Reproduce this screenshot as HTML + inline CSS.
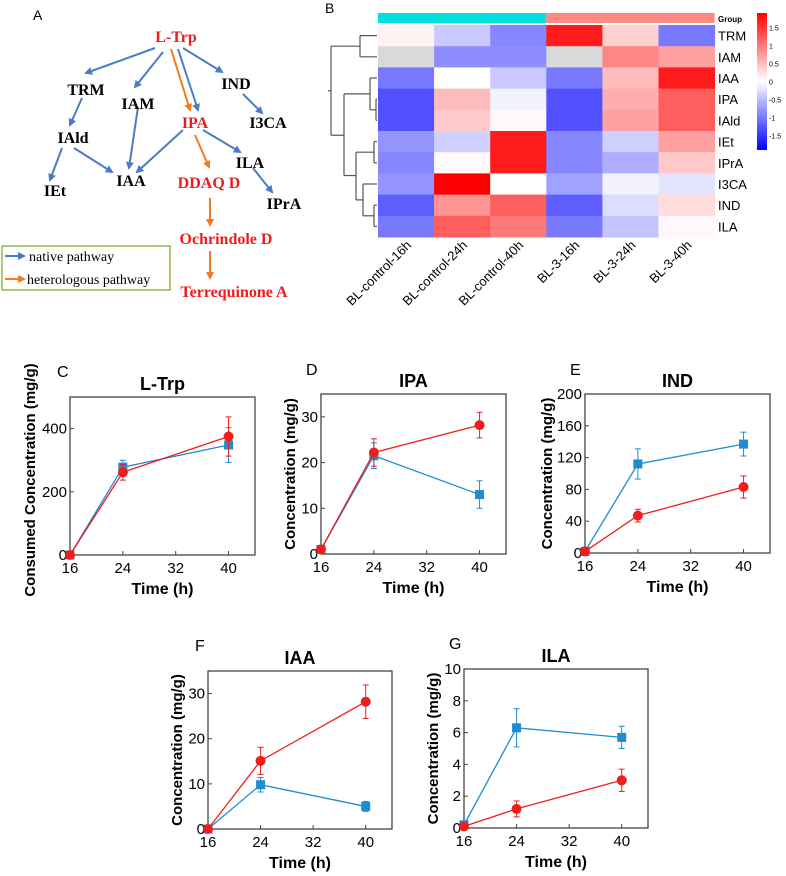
<!DOCTYPE html>
<html><head><meta charset="utf-8"><style>
body{margin:0;background:#fff;width:786px;height:876px;overflow:hidden;font-family:"Liberation Sans",sans-serif}
svg{position:absolute;left:0;top:0}
</style></head><body>
<svg id="fig" width="786" height="876" xmlns="http://www.w3.org/2000/svg" font-family="Liberation Sans, sans-serif">
<defs>
<marker id="ab" markerWidth="8" markerHeight="8" refX="6" refY="4" orient="auto" markerUnits="userSpaceOnUse"><path d="M0,0 L8,4 L0,8 z" fill="#4a7cc4"/></marker>
<marker id="ao" markerWidth="8" markerHeight="8" refX="6" refY="4" orient="auto" markerUnits="userSpaceOnUse"><path d="M0,0 L8,4 L0,8 z" fill="#f47a20"/></marker>
<linearGradient id="cb" x1="0" y1="1" x2="0" y2="0"><stop offset="0" stop-color="#0000ff"/><stop offset="0.5" stop-color="#fff"/><stop offset="1" stop-color="#ff0000"/></linearGradient>
</defs>
<g id="panelA" font-family="Liberation Serif, serif" font-weight="bold" font-size="16">
<text x="33" y="20" font-family="Liberation Sans" font-weight="normal" font-size="14">A</text>
<g stroke="#4a7cc4" stroke-width="2" fill="none">
<line x1="155" y1="48" x2="86" y2="73" marker-end="url(#ab)"/>
<line x1="163" y1="52" x2="135" y2="87" marker-end="url(#ab)"/>
<line x1="178" y1="49" x2="198" y2="110" marker-end="url(#ab)"/>
<line x1="183" y1="48" x2="222" y2="72" marker-end="url(#ab)"/>
<line x1="82" y1="98" x2="70" y2="125" marker-end="url(#ab)"/>
<line x1="138" y1="107" x2="129" y2="168" marker-end="url(#ab)"/>
<line x1="243" y1="94" x2="262" y2="113" marker-end="url(#ab)"/>
<line x1="62" y1="148" x2="50" y2="180" marker-end="url(#ab)"/>
<line x1="74" y1="148" x2="112" y2="172" marker-end="url(#ab)"/>
<line x1="183" y1="130" x2="137" y2="172" marker-end="url(#ab)"/>
<line x1="203" y1="130" x2="240" y2="152" marker-end="url(#ab)"/>
<line x1="253" y1="168" x2="272" y2="192" marker-end="url(#ab)"/>
</g>
<g stroke="#f47a20" stroke-width="2" fill="none">
<line x1="171" y1="49" x2="190" y2="110" marker-end="url(#ao)"/>
<line x1="195" y1="135" x2="209" y2="167" marker-end="url(#ao)"/>
<line x1="210" y1="198" x2="210" y2="225" marker-end="url(#ao)"/>
<line x1="210" y1="251" x2="210" y2="278" marker-end="url(#ao)"/>
</g>
<text x="176" y="42" fill="#ee1c1c" text-anchor="middle">L-Trp</text>
<text x="86" y="95" text-anchor="middle">TRM</text>
<text x="138" y="109" text-anchor="middle">IAM</text>
<text x="236" y="89" text-anchor="middle">IND</text>
<text x="195" y="128" fill="#ee1c1c" text-anchor="middle">IPA</text>
<text x="268" y="128" text-anchor="middle">I3CA</text>
<text x="73" y="143" text-anchor="middle">IAld</text>
<text x="250" y="168" text-anchor="middle">ILA</text>
<text x="55" y="196" text-anchor="middle">IEt</text>
<text x="131" y="186" text-anchor="middle">IAA</text>
<text x="209" y="188" fill="#ee1c1c" text-anchor="middle">DDAQ D</text>
<text x="284" y="209" text-anchor="middle">IPrA</text>
<text x="226" y="244" fill="#ee1c1c" text-anchor="middle">Ochrindole D</text>
<text x="234" y="297" fill="#ee1c1c" text-anchor="middle">Terrequinone A</text>
<g font-weight="normal" font-size="14">
<rect x="2" y="246" width="168" height="44" fill="#fff" stroke="#8dbb4a" stroke-width="1.5"/>
<line x1="5" y1="256" x2="24" y2="256" stroke="#4a7cc4" stroke-width="2" marker-end="url(#ab)"/>
<text x="29" y="261">native pathway</text>
<line x1="5" y1="279" x2="24" y2="279" stroke="#f47a20" stroke-width="2" marker-end="url(#ao)"/>
<text x="27" y="284">heterologous pathway</text>
</g>
</g>
<g id="heat"></g>
<g id="charts"></g>
</svg>
<script>
const NS="http://www.w3.org/2000/svg";
function mk(p,t,a,txt){const e=document.createElementNS(NS,t);for(const k in a)e.setAttribute(k,a[k]);if(txt!==undefined)e.textContent=txt;p.appendChild(e);return e;}

// ---- Heatmap data
const hmRows=["TRM","IAM","IAA","IPA","IAld","IEt","IPrA","I3CA","IND","ILA"];
const hmCols=["BL-control-16h","BL-control-24h","BL-control-40h","BL-3-16h","BL-3-24h","BL-3-40h"];
const hmTRM=[0.1,-0.4,-0.9,1.7,0.35,-1.0];
const hmIAM=[null,-0.85,-0.85,null,0.9,0.7];
const hmIAA=[-1.0,0,-0.4,-1.0,0.5,1.7];
const hmIPA=[-1.3,0.5,-0.1,-1.3,0.6,1.2];
const hmIAld=[-1.3,0.4,0.05,-1.3,0.7,1.2];
const hmIEt=[-0.8,-0.35,1.7,-0.9,-0.35,0.7];
const hmIPrA=[-0.9,0.03,1.7,-0.9,-0.6,0.4];
const hmI3CA=[-0.8,1.9,0,-0.7,-0.1,-0.2];
const hmIND=[-1.2,0.8,1.2,-1.2,-0.25,0.25];
const hmILA=[-1.0,1.2,1.0,-1.0,-0.45,0.05];
const hmData=[hmTRM,hmIAM,hmIAA,hmIPA,hmIAld,hmIEt,hmIPrA,hmI3CA,hmIND,hmILA];
const cbTicks=[1.5,1,0.5,0,-0.5,-1,-1.5];
function hcol(v){if(v===null)return"#d9d9d9";let t=Math.max(-1,Math.min(1,v/1.9));
 if(t>=0){const c=Math.round(255*(1-t));return`rgb(255,${c},${c})`;}const c=Math.round(255*(1+t));return`rgb(${c},${c},255)`;}
const hx0=378,hy0=25,cw=56.1,rh=21.2;
const heat=document.getElementById('heat');
const pb=mk(heat,'text',{x:325,y:13,'font-size':14},'B');

const gb1=mk(heat,'rect',{x:hx0,y:13,width:cw*3,height:10,fill:'#00dede'});

const gb2=mk(heat,'rect',{x:hx0+cw*3,y:13,width:cw*3,height:10,fill:'#fe8a82'});

const gl=mk(heat,'text',{x:718,y:22,'font-size':8,'font-weight':'bold'},'Group');

hmData.forEach((row,i)=>{row.forEach((v,j)=>{
 const r=mk(heat,'rect',{x:hx0+j*cw,y:hy0+i*rh,width:cw+0.5,height:rh+0.5,fill:hcol(v)});
 
 
});
 const t=mk(heat,'text',{x:718,y:hy0+i*rh+rh/2+5,'font-size':13},hmRows[i]);
 
});
hmCols.forEach((c,j)=>{const x=hx0+j*cw+cw/2+6,y=246;
 const t=mk(heat,'text',{x:x,y:y,'font-size':13,'text-anchor':'end',transform:`rotate(-45 ${x} ${y})`},c);
 
});
const cbr=mk(heat,'rect',{x:757,y:13,width:10,height:137,fill:'url(#cb)'});

cbTicks.forEach(v=>{const y=81.5-v*(68.5/1.9);
 const t=mk(heat,'text',{x:769,y:y+3,'font-size':7},String(v));
 });
const dg=mk(heat,'g',{stroke:'#555','stroke-width':1.2,fill:'none'});

const ry=i=>hy0+i*rh+rh/2;
const segs=[[377,ry(0),360,ry(0)],[377,ry(1),360,ry(1)],[360,ry(0),360,ry(1)],[360,(ry(0)+ry(1))/2,331,(ry(0)+ry(1))/2],
[377,ry(3),376,ry(3)],[377,ry(4),376,ry(4)],[376,ry(3),376,ry(4)],[376,(ry(3)+ry(4))/2,370,(ry(3)+ry(4))/2],[377,ry(2),370,ry(2)],[370,ry(2),370,(ry(3)+ry(4))/2],
[370,(ry(2)+ry(3.5))/2,344,(ry(2)+ry(3.5))/2],
[377,ry(5),374,ry(5)],[377,ry(6),374,ry(6)],[374,ry(5),374,ry(6)],[374,(ry(5)+ry(6))/2,356,(ry(5)+ry(6))/2],
[377,ry(8),374,ry(8)],[377,ry(9),374,ry(9)],[374,ry(8),374,ry(9)],[374,ry(8.5),363,ry(8.5)],[377,ry(7),363,ry(7)],[363,ry(7),363,ry(8.5)],[363,ry(7.75),356,ry(7.75)],
[356,ry(5.5),356,ry(7.75)],[356,ry(6.6),344,ry(6.6)],[344,ry(2.75),344,ry(6.6)],[344,ry(4.7),331,ry(4.7)],[331,ry(0.5),331,ry(4.7)],[331,ry(2.6),328,ry(2.6)]];
segs.forEach(s=>mk(dg,'line',{x1:s[0],y1:s[1],x2:s[2],y2:s[3]}));

// ---- Line chart data
const timeH=[16,24,40];
const xTicks=[16,24,32,40];
const trpBlue=[0,278,348], trpBlueErr=[0,22,55];
const trpRed=[0,262,375], trpRedErr=[0,25,62];
const trpTicks=[0,200,400];
const ipaBlue=[1,21.5,13], ipaBlueErr=[0,2.8,3];
const ipaRed=[1,22.2,28.2], ipaRedErr=[0,3,2.8];
const ipaTicks=[0,10,20,30];
const indBlue=[2,112,137], indBlueErr=[0,19,15];
const indRed=[2,47,83], indRedErr=[0,8,14];
const indTicks=[0,40,80,120,160,200];
const iaaBlue=[0,9.8,5], iaaBlueErr=[0,1.6,1.1];
const iaaRed=[0,15.1,28.2], iaaRedErr=[0,3,3.7];
const iaaTicks=[0,10,20,30];
const ilaBlue=[0.2,6.3,5.7], ilaBlueErr=[0,1.2,0.7];
const ilaRed=[0.1,1.2,3.0], ilaRedErr=[0,0.5,0.7];
const ilaTicks=[0,2,4,6,8,10];

const charts=[
 {n:'l-trp',L:'C',title:'L-Trp',yl:'Consumed Concentration (mg/g)',x0:70,x1:255,y0:555,y1:397,ymax:500,ticks:trpTicks,b:trpBlue,be:trpBlueErr,r:trpRed,re:trpRedErr,lx:57,ly:377,yo:35,yc:4},
 {n:'ipa',L:'D',title:'IPA',yl:'Concentration (mg/g)',x0:321,x1:506,y0:554,y1:394,ymax:35,ticks:ipaTicks,b:ipaBlue,be:ipaBlueErr,r:ipaRed,re:ipaRedErr,lx:306,ly:375,yo:26,yc:0},
 {n:'ind',L:'E',title:'IND',yl:'Concentration (mg/g)',x0:585,x1:770,y0:553,y1:394,ymax:200,ticks:indTicks,b:indBlue,be:indBlueErr,r:indRed,re:indRedErr,lx:570,ly:375,yo:33,yc:0},
 {n:'iaa',L:'F',title:'IAA',yl:'Concentration (mg/g)',x0:208,x1:392,y0:829,y1:671,ymax:35,ticks:iaaTicks,b:iaaBlue,be:iaaBlueErr,r:iaaRed,re:iaaRedErr,lx:195,ly:651,yo:26,yc:0},
 {n:'ila',L:'G',title:'ILA',yl:'Concentration (mg/g)',x0:464,x1:648,y0:828,y1:669,ymax:10,ticks:ilaTicks,b:ilaBlue,be:ilaBlueErr,r:ilaRed,re:ilaRedErr,lx:449,ly:649,yo:26,yc:0}
];
const cg=document.getElementById('charts');
charts.forEach(c=>{
 const g=mk(cg,'g',{});
 
 
 const X=t=>c.x0+(t-16)/(44-16)*(c.x1-c.x0);
 const Y=v=>c.y0-v/c.ymax*(c.y0-c.y1);
 const pl=mk(g,'text',{x:c.lx,y:c.ly,'font-size':16},c.L);
 
 const ti=mk(g,'text',{x:(c.x0+c.x1)/2,y:c.y1-7,'font-size':18,'font-weight':'bold','text-anchor':'middle'},c.title);
 
 const fr=mk(g,'rect',{x:c.x0,y:c.y1,width:c.x1-c.x0,height:c.y0-c.y1,fill:'none',stroke:'#444','stroke-width':1.3});
 
 c.ticks.forEach(v=>{mk(g,'line',{x1:c.x0,x2:c.x0+4,y1:Y(v),y2:Y(v),stroke:'#444'});
  const tl=mk(g,'text',{x:c.x0-3,y:Y(v)+5,'font-size':15,'text-anchor':'end'},String(v));
  });
 xTicks.forEach(t=>{mk(g,'line',{x1:X(t),x2:X(t),y1:c.y0,y2:c.y0-4,stroke:'#444'});
  const tl=mk(g,'text',{x:X(t),y:c.y0+18,'font-size':15,'text-anchor':'middle'},String(t));
  });
 const xt=mk(g,'text',{x:(c.x0+c.x1)/2,y:c.y0+39,'font-size':16,'font-weight':'bold','text-anchor':'middle'},'Time (h)');
 
 const yx=c.x0-c.yo,yy=(c.y0+c.y1)/2+c.yc;
 const yt=mk(g,'text',{x:yx,y:yy,'font-size':15,'font-weight':'bold','text-anchor':'middle',transform:`rotate(-90 ${yx} ${yy})`},c.yl);
 
 [[c.b,c.be,'#1f8ccf','sq'],[c.r,c.re,'#f01d1d','ci']].forEach(([vals,errs,col,shape])=>{
  const s=mk(g,'g',{});
  
  mk(s,'polyline',{points:vals.map((v,i)=>X(timeH[i])+','+Y(v)).join(' '),fill:'none',stroke:col,'stroke-width':1.3});
  vals.forEach((v,i)=>{const x=X(timeH[i]);
   if(errs[i]>0){mk(s,'line',{x1:x,x2:x,y1:Y(v-errs[i]),y2:Y(v+errs[i]),stroke:col,'stroke-width':1});
    mk(s,'line',{x1:x-3,x2:x+3,y1:Y(v-errs[i]),y2:Y(v-errs[i]),stroke:col});
    mk(s,'line',{x1:x-3,x2:x+3,y1:Y(v+errs[i]),y2:Y(v+errs[i]),stroke:col});}
   const m=shape==='sq'?mk(s,'rect',{x:x-4.5,y:Y(v)-4.5,width:9,height:9,fill:col}):mk(s,'circle',{cx:x,cy:Y(v),r:5,fill:col});
   
   
  });
 });
});
</script>
</body></html>
